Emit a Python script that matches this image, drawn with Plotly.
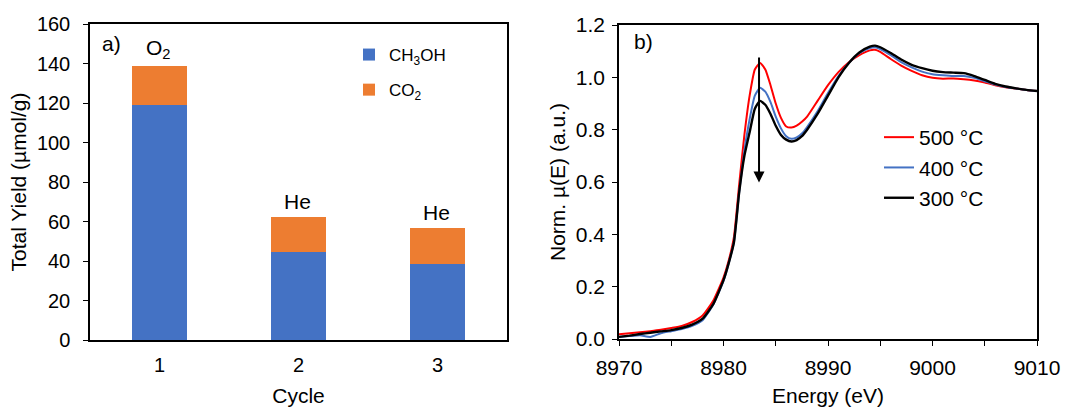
import plotly.graph_objects as go

# ---- Panel a): methanol / CO2 yields per cycle ----
cycles = ["1", "2", "3"]
ch3oh_yield = [119.0, 44.6, 38.6]
co2_yield = [19.7, 17.7, 18.3]
cycle_gas = ["O<sub>2</sub>", "He", "He"]

# ---- Panel b): Cu K-edge XANES at three activation temperatures ----
energy = [8970, 8971, 8972, 8973, 8974, 8975, 8976, 8977, 8978, 8979, 8980,
          8980.5, 8981, 8981.5, 8982, 8982.5, 8983, 8983.5, 8984, 8984.5,
          8985, 8985.5, 8986, 8986.5, 8987, 8987.5, 8988, 8989, 8990, 8991,
          8992, 8993, 8994, 8994.5, 8995, 8996, 8997, 8998, 8999, 9000, 9001,
          9002, 9003, 9004, 9005, 9006, 9007, 9008, 9009, 9010]
mu_500 = [0.018, 0.022, 0.026, 0.030, 0.035, 0.042, 0.050, 0.065, 0.090, 0.145, 0.235,
          0.300, 0.390, 0.590, 0.780, 0.930, 1.030, 1.055, 1.030, 0.970,
          0.900, 0.845, 0.812, 0.808, 0.815, 0.830, 0.850, 0.910, 0.970, 1.020,
          1.058, 1.085, 1.103, 1.105, 1.097, 1.070, 1.045, 1.025, 1.008, 0.998, 0.995,
          0.996, 0.993, 0.988, 0.980, 0.970, 0.962, 0.957, 0.952, 0.948]
mu_400 = [0.008, 0.011, 0.014, 0.008, 0.022, 0.030, 0.038, 0.050, 0.072, 0.130, 0.222,
          0.290, 0.370, 0.560, 0.720, 0.840, 0.930, 0.960, 0.945, 0.905,
          0.850, 0.805, 0.775, 0.765, 0.770, 0.785, 0.810, 0.870, 0.940, 1.005,
          1.055, 1.092, 1.112, 1.115, 1.108, 1.085, 1.058, 1.038, 1.022, 1.012, 1.008,
          1.005, 1.005, 0.998, 0.985, 0.972, 0.963, 0.957, 0.952, 0.948]
mu_300 = [0.008, 0.013, 0.019, 0.024, 0.029, 0.034, 0.042, 0.055, 0.078, 0.132, 0.225,
          0.290, 0.370, 0.560, 0.700, 0.790, 0.880, 0.910, 0.895, 0.860,
          0.815, 0.780, 0.762, 0.755, 0.760, 0.775, 0.800, 0.860, 0.930, 1.000,
          1.055, 1.095, 1.117, 1.121, 1.115, 1.093, 1.068, 1.048, 1.035, 1.025, 1.020,
          1.018, 1.016, 1.005, 0.990, 0.975, 0.965, 0.958, 0.952, 0.948]
arrow_energy = 8983.4
arrow_from, arrow_to = 1.082, 0.598

FONT = "Arial, Liberation Sans, sans-serif"
BLUE = "#4472C4"
ORANGE = "#ED7D31"

fig = go.Figure()

fig.add_trace(go.Bar(x=cycles, y=ch3oh_yield, name="CH<sub>3</sub>OH",
                     marker=dict(color=BLUE, line=dict(width=0)), width=0.4,
                     xaxis="x", yaxis="y", legend="legend", legendgroup="a1"))
fig.add_trace(go.Bar(x=cycles, y=co2_yield, name="CO<sub>2</sub>",
                     marker=dict(color=ORANGE, line=dict(width=0)), width=0.4,
                     xaxis="x", yaxis="y", legend="legend", legendgroup="a2"))

for name, vals, col, w in [("500 °C", mu_500, "#FF0000", 2),
                           ("400 °C", mu_400, BLUE, 2),
                           ("300 °C", mu_300, "#000000", 2.4)]:
    fig.add_trace(go.Scatter(x=energy, y=vals, name=name, mode="lines",
                             line=dict(color=col, width=w, shape="spline", smoothing=0.5),
                             xaxis="x2", yaxis="y2", legend="legend2"))

totals = [a + b for a, b in zip(ch3oh_yield, co2_yield)]
annotations = []
for i, (t, g) in enumerate(zip(totals, cycle_gas)):
    annotations.append(dict(x=i, y=t, xref="x", yref="y", text=g, showarrow=False,
                            yanchor="bottom", yshift=2, xshift=-1, font=dict(size=21)))
annotations.append(dict(x=111 / 1078, y=1 - 43 / 407, xref="paper", yref="paper",
                        text="a)", showarrow=False, xanchor="center", yanchor="middle",
                        font=dict(size=21)))
annotations.append(dict(x=643 / 1078, y=1 - 41 / 407, xref="paper", yref="paper",
                        text="b)", showarrow=False, xanchor="center", yanchor="middle",
                        font=dict(size=21)))
annotations.append(dict(x=arrow_energy, y=arrow_to, ax=arrow_energy, ay=arrow_from,
                        xref="x2", yref="y2", axref="x2", ayref="y2", text="",
                        showarrow=True, arrowhead=2, arrowsize=1.1, arrowwidth=2,
                        arrowcolor="black"))

axis_common = dict(showline=True, linecolor="black", linewidth=1.5, mirror=True,
                   showgrid=False, zeroline=False, ticks="outside", tickcolor="black",
                   ticklen=5, tickwidth=1.3, tickfont=dict(size=20, color="black"),
                   automargin=False)

fig.update_layout(
    width=1078, height=407,
    margin=dict(l=0, r=0, t=0, b=0),
    paper_bgcolor="white", plot_bgcolor="white",
    font=dict(family=FONT, color="black", size=21),
    barmode="stack",
    xaxis=dict(axis_common, domain=[90 / 1078, 507 / 1078], anchor="y",
               range=[-0.5, 2.5], type="category", ticks="", ticklabelstandoff=6,
               title=dict(text="Cycle", font=dict(size=21), standoff=16)),
    yaxis=dict(axis_common, domain=[1 - 340 / 407, 1 - 24 / 407], anchor="x",
               range=[0, 160], dtick=20, ticklabelstandoff=9,
               title=dict(text="Total Yield (µmol/g)", font=dict(size=21), standoff=5)),
    xaxis2=dict(axis_common, domain=[619 / 1078, 1037 / 1078], anchor="y2",
                range=[8970, 9010], tickvals=[8970, 8980, 8990, 9000, 9010],
                tickfont=dict(size=21, color="black"), ticklabelstandoff=4,
                minor=dict(dtick=5, tick0=8970, ticks="outside", ticklen=5,
                           tickcolor="black", tickwidth=1.3),
                title=dict(text="Energy (eV)", font=dict(size=21), standoff=14)),
    yaxis2=dict(axis_common, domain=[1 - 339 / 407, 1 - 25 / 407], anchor="x2",
                range=[0, 1.2], dtick=0.2, tickformat=".1f",
                tickfont=dict(size=21, color="black"), ticklabelstandoff=3,
                title=dict(text="Norm. µ(E) (a.u.)", font=dict(size=21), standoff=4)),
    legend=dict(x=349 / 1078, y=1 - 37 / 407, xanchor="left", yanchor="top",
                bgcolor="rgba(0,0,0,0)", font=dict(size=17), traceorder="grouped",
                tracegroupgap=10),
    legend2=dict(x=879 / 1078, y=1 - 117 / 407, xanchor="left", yanchor="top",
                 bgcolor="rgba(0,0,0,0)", font=dict(size=21), traceorder="normal"),
    annotations=annotations,
    showlegend=True,
)

fig.write_html("out.html")
